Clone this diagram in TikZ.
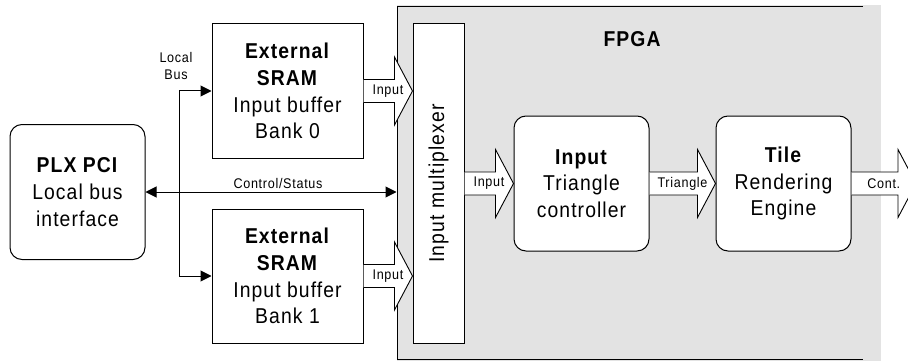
\documentclass[tikz,border=0pt]{standalone}
\usepackage{fontspec}
\setmainfont{Liberation Sans}[LetterSpace=5,FakeStretch=0.9]
\usetikzlibrary{calc,arrows.meta}
\definecolor{fpgagray}{HTML}{E3E3E3}
\newcommand\fatarr[3]{%
  \draw[fat] let \p1=(#1), \p2=(#2) in
    (\x1,\y1+11.5pt) -- (\x2-18pt,\y1+11.5pt) -- (\x2-18pt,\y1+34pt) -- (\x2,\y1)
    -- (\x2-18pt,\y1-34pt) -- (\x2-18pt,\y1-11.5pt) -- (\x1,\y1-11.5pt);
  \path let \p1=(#1), \p2=(#2) in node[lbl] at ({(\x1+\x2)/2},\y1) {#3};}
\begin{document}
\begin{tikzpicture}[x=1pt,y=-1pt, line width=1pt,
  box/.style={draw, fill=white, inner sep=0pt, align=center, font=\fontsize{21.5}{26.7}\selectfont},
  sram/.style={box, minimum width=151pt, minimum height=134pt},
  rbox/.style={box, rounded corners=12pt, minimum width=135pt, minimum height=135pt},
  lbl/.style={font=\fontsize{14}{17}\selectfont, inner sep=0pt, align=center},
  fat/.style={draw, fill=white, line width=0.9pt, line join=miter},
  bus/.style={{Triangle[length=11pt,width=11pt]}-{Triangle[length=11pt,width=11pt]}, line width=1pt}
]
\useasboundingbox (0,0) rectangle (908,361);
\clip (0,0) rectangle (908,361);
% FPGA region
\node[fill=fpgagray, inner sep=0pt, minimum width=484pt, minimum height=356pt] (fpga) at (639,183) {};
\draw[line width=1.4pt] (863,6.5) -| (397.5,359.5) -- (863,359.5);
\node[font=\fontsize{21.5}{24}\selectfont\bfseries] (fpgalbl) at (632,39) {FPGA};
% blocks
\node[rbox] (plx) at (77.5,192) {\textbf{PLX PCI}\\Local bus\\interface};
\node[sram] (s0) at (287.5,91) {\textbf{External}\\\textbf{SRAM}\\Input buffer\\Bank 0};
\node[sram] (s1) at (287.5,276) {\textbf{External}\\\textbf{SRAM}\\Input buffer\\Bank 1};
\node[box, minimum width=51pt, minimum height=319pt] (mux) at (438.5,183.5) {};
\node[font=\fontsize{21.5}{24}\selectfont, rotate=90] (muxlbl) at (mux.center) {Input multiplexer};
\node[rbox] (itc) at (581.5,183.5) {\textbf{Input}\\Triangle\\controller};
\node[rbox] (tre) at (783.5,183.5) {\textbf{Tile}\\Rendering\\Engine};
\coordinate (out) at (916,183.5);
\coordinate (j) at (179,192);
% local bus
\draw[bus] (s0.west) -| (j |- s1.west) -- (s1.west);
\node[lbl] (lb) at (176,65.5) {Local\\Bus};
% control/status
\draw[bus] (plx.east) -- (fpga.west |- plx.east);
\node[lbl] (cs) at (278,183) {Control/Status};
% fat arrows
\fatarr{s0.east}{mux.west |- s0.east}{Input}
\fatarr{s1.east}{mux.west |- s1.east}{Input}
\fatarr{mux.east |- itc.west}{itc.west}{Input}
\fatarr{itc.east}{tre.west}{Triangle}
\fatarr{tre.east}{out}{Cont.}
\end{tikzpicture}
\end{document}
